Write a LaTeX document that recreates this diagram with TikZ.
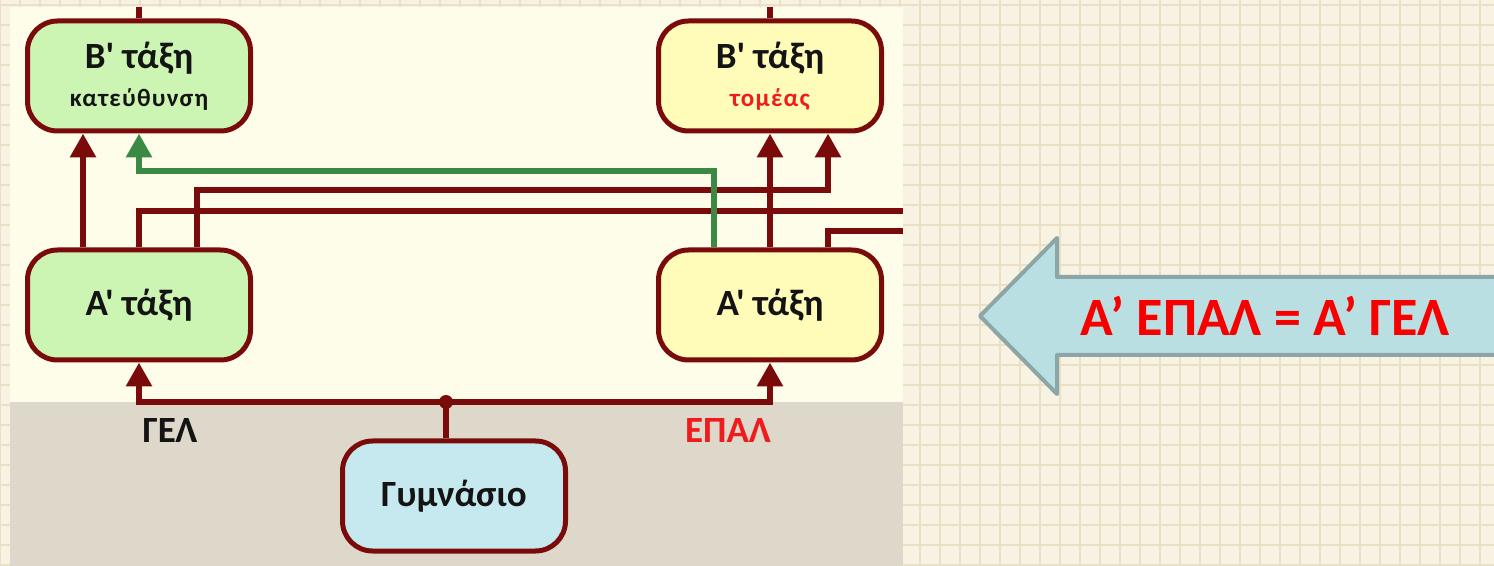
\documentclass[tikz,border=0pt]{standalone}
\usepackage{fontspec}
\usetikzlibrary{arrows.meta,calc}
\newfontfamily\lab{Carlito}
\definecolor{wine}{HTML}{7A0B0B}
\definecolor{fern}{HTML}{3A8A45}
\definecolor{leaf}{HTML}{CCF4B2}
\definecolor{straw}{HTML}{FFFBB9}
\definecolor{sky}{HTML}{C6E9EF}
\definecolor{cream}{HTML}{FEFDEA}
\definecolor{taupe}{HTML}{DDD8CA}
\definecolor{paper}{HTML}{F8F2E3}
\definecolor{gridtan}{HTML}{EAE0C6}
\definecolor{signal}{HTML}{EE1C1C}
\definecolor{alarm}{HTML}{F70000}
\definecolor{ink}{HTML}{141414}
\definecolor{arrowfill}{HTML}{B9DFE2}
\definecolor{arrowedge}{HTML}{8CA6A8}

\begin{document}
\begin{tikzpicture}[x=.5pt,y=-.5pt,>={Triangle[width=12.5pt,length=12pt]},
 box/.style={draw=wine,line width=2.5pt,rounded corners=15pt,minimum width=111.5pt,
  minimum height=55pt,align=center,text=ink,font=\lab\bfseries\fontsize{18.5}{21}\selectfont},
 gbox/.style={box,fill=leaf}, ybox/.style={box,fill=straw},
 wire/.style={wine,line width=3pt},
 tag/.style={font=\lab\bfseries\fontsize{18.5}{21}\selectfont}]
 \useasboundingbox (0,0) rectangle (1494,566);
 \clip (0,0) rectangle (1494,566);
 \fill[paper] (0,0) rectangle (1494,566);
 \foreach \g in {0,20,...,1480} \draw[gridtan,line width=.8pt] (\g,0) -- (\g,566);
 \foreach \g in {5,25,...,565} \draw[gridtan,line width=.8pt] (0,\g) -- (1494,\g);
 \fill[cream] (10,7) rectangle (903,402);
 \fill[taupe] (10,402) rectangle (903,566);

 \node[gbox] (bk) at (139,76) {Β' τάξη\\[-2pt]{\fontsize{12.5}{15}\selectfont\addfontfeature{LetterSpace=5}κατεύθυνση}};
 \node[ybox] (bt) at (770,76) {Β' τάξη\\[-2pt]{\fontsize{12.5}{15}\selectfont\addfontfeature{LetterSpace=5}\color{signal}τομέας}};
 \node[gbox] (ag) at (139,305) {Α' τάξη};
 \node[ybox] (ae) at (770,305) {Α' τάξη};
 \node[box,fill=sky] (gym) at (454,496) {Γυμνάσιο};
 \node[tag,text=ink] (gel) at (170,431) {ΓΕΛ};
 \node[tag,text=signal] (epal) at (728,431) {ΕΠΑΛ};

 \coordinate (rim) at (10,7);
 \coordinate (exitA) at (903,211);
 \coordinate (exitB) at (903,231);
 \coordinate (jn) at (446,402);
 \draw[wire] (bk.north) -- (bk.north |- rim);
 \draw[wire] (bt.north) -- (bt.north |- rim);
 \draw[wire,->] ($(ag.north)+(-56,0)$) -- ($(bk.south)+(-56,0)$);
 \draw[wire] (ag.north) |- (exitA);
 \draw[wire,->] ($(ag.north)+(58,0)$) -- ++(0,-57) -| ($(bt.south)+(58,0)$);
 \draw[fern,line width=3pt,->] ($(ae.north)+(-56,0)$) -- ++(0,-76) -| (bk.south);
 \draw[wire] ($(ae.north)+(58,0)$) |- (exitB);
 \draw[wire,->] (ae.north) -- (bt.south);
 \draw[wire,->] (jn) -| (ag.south);
 \draw[wire,->] (jn) -| (ae.south);
 \draw[wire] (jn) -- (jn |- gym.north);
 \fill[wine] (jn) circle (3.5pt);

 \draw[arrowedge,fill=arrowfill,line width=2pt,line join=round]
  (980,316) -- (1057,238) -- (1057,277) -- (1510,277) -- (1510,355)
  -- (1057,355) -- (1057,394) -- cycle;
 \node[font=\lab\bfseries\fontsize{27}{32}\selectfont,text=alarm] (eq) at (1265,316) {Α’ ΕΠΑΛ = Α’ ΓΕΛ};
\end{tikzpicture}
\end{document}
